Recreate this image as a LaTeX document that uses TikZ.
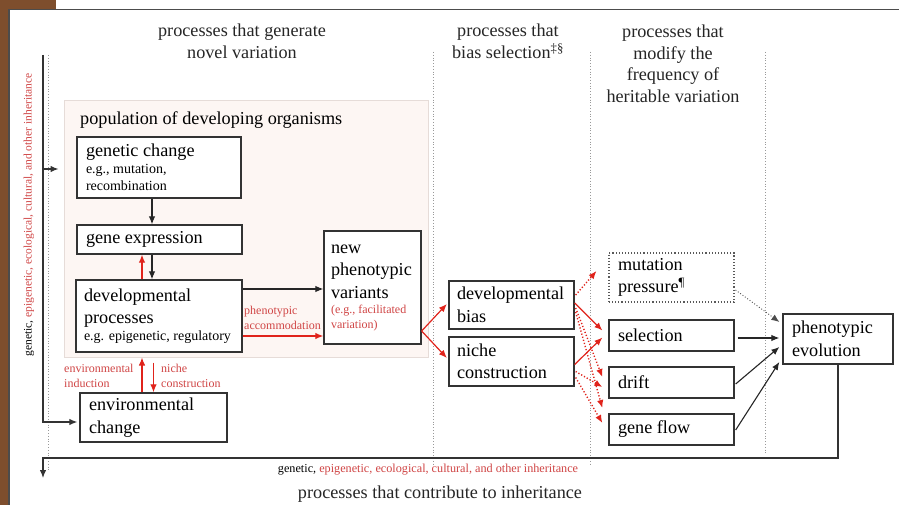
\documentclass[tikz,border=0pt]{standalone}
\usepackage{fontspec}
\setmainfont{Liberation Serif}
\usetikzlibrary{arrows.meta,calc}
\definecolor{frameBrown}{HTML}{7E4E2D}
\definecolor{inkRed}{HTML}{E0231B}
\definecolor{labelRed}{HTML}{D04545}
\definecolor{popFill}{HTML}{FDF6F3}
\definecolor{popEdge}{HTML}{E6DCD8}
\definecolor{boxEdge}{HTML}{333333}
\newcommand{\bigtxt}{\fontsize{18.2}{22.5}\selectfont}
\newcommand{\subtxt}{\fontsize{14}{17}\selectfont}
\newcommand{\redtxt}{\fontsize{12}{15}\selectfont\color{labelRed}}
\begin{document}
\begin{tikzpicture}[x=1pt,y=-1pt,
  box/.style={draw=boxEdge, line width=1.3pt, fill=white, inner xsep=9pt, inner ysep=2pt,
              align=flush left, font=\bigtxt},
  dotbox/.style={box, draw=black!65, line width=1.1pt, dotted},
  popbox/.style={draw=popEdge, line width=1pt, fill=popFill},
  head/.style={align=center, font=\fontsize{18.2}{21.5}\selectfont, text=black!85},
  redlabel/.style={align=flush left, font=\redtxt, inner sep=0pt},
  divider/.style={draw=black!40, dotted, line width=0.8pt},
  blk/.style={-{Latex[length=8pt,width=6.5pt]}, line width=1.1pt, draw=black!85},
  redarr/.style={-{Latex[length=8pt,width=6.5pt]}, line width=1.2pt, draw=inkRed, color=inkRed},
  reddot/.style={redarr, dotted, line width=1.4pt},
  greydot/.style={-{Latex[length=8pt,width=6.5pt]}, dotted, line width=0.9pt, draw=black!60, color=black!70},
  inh/.style={line width=1.2pt, draw=black!80},
]
% page, frame and corner
\fill[white] (0,0) rectangle (899,505);
\useasboundingbox (0,0) rectangle (899,505);
\fill[frameBrown] (0,0) rectangle (8.5,505);
\fill[frameBrown] (0,0) rectangle (56,9);
\draw[line width=1.6pt, black!70] (9,505) -- (9,9.5) -- (899,9.5);

% column dividers
\draw[divider] (48,55) -- (48,470);
\draw[divider] (433,52) -- (433,466);
\draw[divider] (590,52) -- (590,466);
\draw[divider] (765,52) -- (765,455);

% column headings
\node[head] (hGen) at (242,41.5) {processes that generate\\novel variation};
\node[head] (hBias) at (508,41.5) {processes that\\bias selection\textsuperscript{‡§}};
\node[head] (hFreq) at (673,64) {processes that\\modify the\\frequency of\\heritable variation};

% population of developing organisms
\node[popbox, minimum width=364pt, minimum height=256pt, inner sep=0pt] (pop) at (246,229) {};
\node[anchor=west, font=\fontsize{18.2}{20}\selectfont, inner sep=0pt] (popTitle) at (80,120) {population of developing organisms};

\node[box, text width=146pt, minimum height=61pt] (gc) at (159,167.5)
  {{genetic change\par}{\subtxt e.g., mutation,\\recombination\par}};
\node[box, text width=147pt, minimum height=29pt] (ge) at (159.5,239.5) {gene expression};
\node[box, text width=150pt, inner xsep=8pt, minimum height=72pt] (dp) at (159,316)
  {{developmental\\processes\par}{\subtxt\mbox{e.g. epigenetic, regulatory}\par}};
\node[box, text width=83pt, inner xsep=7pt, minimum height=113pt] (npv) at (372.5,287.5)
  {{new\\phenotypic\\variants\par}{\redtxt (e.g., facilitated\\variation)\par}};
\node[box, text width=129pt, minimum height=49pt] (ec) at (153.5,417.5) {environmental\\change};

% processes that bias selection
\node[box, text width=109pt, inner xsep=8pt, minimum height=48pt] (db) at (511.5,305) {developmental\\bias};
\node[box, text width=109pt, inner xsep=8pt, minimum height=49pt] (nc) at (511.5,361.5) {niche\\construction};

% processes that modify frequency
\node[dotbox, text width=107pt, minimum height=49pt] (mp) at (671.5,277.5) {mutation\\pressure\textsuperscript{¶}};
\node[box, text width=107pt, minimum height=31pt] (sel) at (671.5,335.5) {selection};
\node[box, text width=107pt, minimum height=31pt] (dr) at (671.5,382.5) {drift};
\node[box, text width=107pt, minimum height=31pt] (gf) at (671.5,429.5) {gene flow};

\node[box, text width=92pt, minimum height=50pt] (pe) at (838,339) {phenotypic\\evolution};

% labels on the red connectors
\node[redlabel, anchor=west] (lAcc) at (244,318) {phenotypic\\accommodation};
\node[redlabel, anchor=west] (lInd) at (64,376) {environmental\\induction};
\node[redlabel, anchor=west] (lNiche) at (161,376) {niche\\construction};

% inheritance axes
\node[font=\fontsize{11.5}{13}\selectfont, rotate=90, inner sep=0pt] (vInh) at (29,215)
  {genetic, {\color{labelRed}epigenetic, ecological, cultural, and other inheritance}};
\node[font=\fontsize{12.2}{13}\selectfont, inner sep=0pt] (hInh) at (428,470)
  {genetic, {\color{labelRed}epigenetic, ecological, cultural, and other inheritance}};
\node[head] (hContrib) at (440,494) {processes that contribute to inheritance};

\coordinate (inhTop) at (43,55);
\coordinate (inhBranch) at (43,169);
\coordinate (inhCorner) at (43,458);
\coordinate (inhEnd) at (43,478);

\draw[inh, -{Latex[length=8pt,width=6.5pt]}] (inhTop) |- ($(ec.west)+(-2,4.5)$);
\draw[inh, -{Latex[length=8pt,width=6.5pt]}] (inhBranch) -- ($(pop.west |- inhBranch)+(-5,0)$);
\draw[inh, -{Latex[length=8pt,width=6.5pt]}] (pe.south) |- (inhCorner) -- (inhEnd);

% within the population
\draw[blk] ($(gc.south)+(-7,0)$) -- ($(ge.north)+(-7.5,0)$);
\draw[blk] ($(ge.south)+(-7.5,0)$) -- ($(dp.north)+(-7,0)$);
\draw[redarr] ($(dp.north)+(-17,0)$) -- ($(ge.south)+(-17.5,0)$);
\draw[blk] ($(dp.east)+(0,-27)$) -- ($(npv.west)+(0,1.5)$);
\draw[redarr] ($(dp.east)+(0,20)$) -- ($(npv.west)+(0,48.5)$);

% environment and development
\draw[redarr] ($(ec.north)+(-11.5,0)$) -- ($(pop.south -| ec.north)+(-11.5,0)$);
\draw[redarr] ($(pop.south -| ec.north)+(0,5)$) -- (ec.north);

% new variants feed the biasing processes
\coordinate (fan) at ($(npv.east)+(0,43.5)$);
\draw[redarr] (fan) -- ($(db.west)+(-1.5,-1)$);
\draw[redarr] (fan) -- ($(nc.west)+(-1.5,-3.5)$);

% biasing processes act on the frequency processes
\draw[redarr] ($(db.east)+(0,-2)$) -- ($(sel.west)+(-6,-5)$);
\draw[redarr] ($(nc.east)+(0,3)$) -- ($(sel.west)+(-6,2)$);
\draw[reddot] ($(db.east)+(1,-10)$) -- ($(mp.west)+(-12,-6.5)$);
\draw[reddot] ($(db.east)+(1,3)$) -- ($(dr.west)+(-6,-5.5)$);
\draw[reddot] ($(db.east)+(1,7)$) -- ($(gf.west)+(-6,-21.5)$);
\draw[reddot] ($(nc.east)+(1,10)$) -- ($(dr.west)+(-6,4.5)$);
\draw[reddot] ($(nc.east)+(1,16)$) -- ($(gf.west)+(-6,-6.5)$);

% frequency processes drive phenotypic evolution
\draw[greydot] ($(mp.east)+(1,12.5)$) -- ($(pe.west)+(-3,-17)$);
\draw[blk] ($(sel.east)+(3,2.5)$) -- ($(pe.west)+(-3,-1)$);
\draw[blk] ($(dr.east)+(1,1.5)$) -- ($(pe.west)+(-3,8)$);
\draw[blk] ($(gf.east)+(1,0.5)$) -- ($(pe.west)+(-3,23)$);
\end{tikzpicture}
\end{document}
